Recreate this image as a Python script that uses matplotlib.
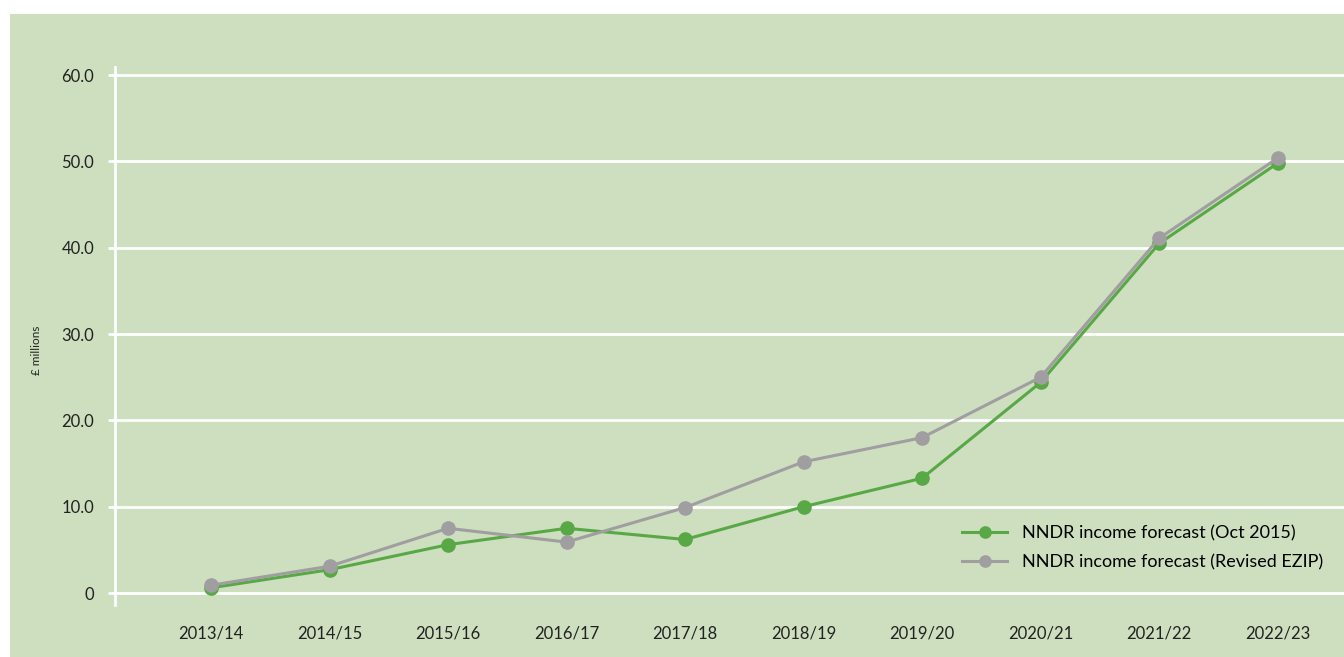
import matplotlib.pyplot as plt
from matplotlib.patches import Rectangle

# data
years = ['2013/14', '2014/15', '2015/16', '2016/17', '2017/18',
         '2018/19', '2019/20', '2020/21', '2021/22', '2022/23']
oct_2015 = [0.6, 2.7, 5.6, 7.5, 6.2, 10.0, 13.3, 24.4, 40.5, 49.8]
revised_ezip = [0.9, 3.1, 7.5, 5.9, 9.9, 15.2, 18.0, 25.0, 41.1, 50.4]
yticks = [0, 10, 20, 30, 40, 50, 60]
ytick_labels = ['0', '10.0', '20.0', '30.0', '40.0', '50.0', '60.0']

green = '#58a846'
grey = '#a09ea1'
bg = '#cddfbf'

plt.rcParams['font.family'] = ['Lato', 'DejaVu Sans']

W, H = 1344, 657
fig = plt.figure(figsize=(W / 100, H / 100), dpi=100)
fig.patch.set_facecolor('white')
fig.patches.append(Rectangle((10 / W, 0), 1 - 10 / W, 1 - 14 / H,
                             transform=fig.transFigure, facecolor=bg,
                             edgecolor='none', zorder=-5))

ax = fig.add_axes([115 / W, 1 - 605 / H, 1 - 115 / W, (605 - 67) / H])
ax.set_facecolor('none')
ax.set_zorder(1)

x = list(range(len(years)))
ax.plot(x, oct_2015, color=green, lw=2.2, marker='o', ms=9.5,
        label='NNDR income forecast (Oct 2015)', zorder=3)
ax.plot(x, revised_ezip, color=grey, lw=2.2, marker='o', ms=9.5,
        label='NNDR income forecast (Revised EZIP)', zorder=4)

ax.set_xlim(-0.81, 9.56)
ax.set_ylim(-1.39, 60.95)
ax.set_xticks(x)
ax.set_xticklabels(years, fontsize=12, color='#222222')
ax.set_yticks(yticks)
ax.set_yticklabels(ytick_labels, fontsize=12, color='#222222')
ax.tick_params(axis='x', length=0, pad=15)
ax.tick_params(axis='y', length=5, width=2, color='white', pad=10)
for lab in ax.get_yticklabels():
    lab.set_horizontalalignment('right')

ax.grid(axis='y', color='white', lw=2)
ax.set_axisbelow(True)
for side in ['top', 'right', 'bottom']:
    ax.spines[side].set_visible(False)
ax.spines['left'].set_color('white')
ax.spines['left'].set_linewidth(2)

fig.text(37 / W, 1 - 350 / H, '£ millions', rotation=90, fontsize=8.5,
         ha='center', va='center', color='#222222')

ax.legend(loc='center left', bbox_to_anchor=(946 / W, 1 - 547.5 / H),
          bbox_transform=fig.transFigure, frameon=False, fontsize=13,
          handlelength=2.5, handletextpad=0.8, labelspacing=0.72,
          markerscale=0.85)

plt.savefig('out.png', dpi=100, facecolor=fig.get_facecolor())
plt.close()
